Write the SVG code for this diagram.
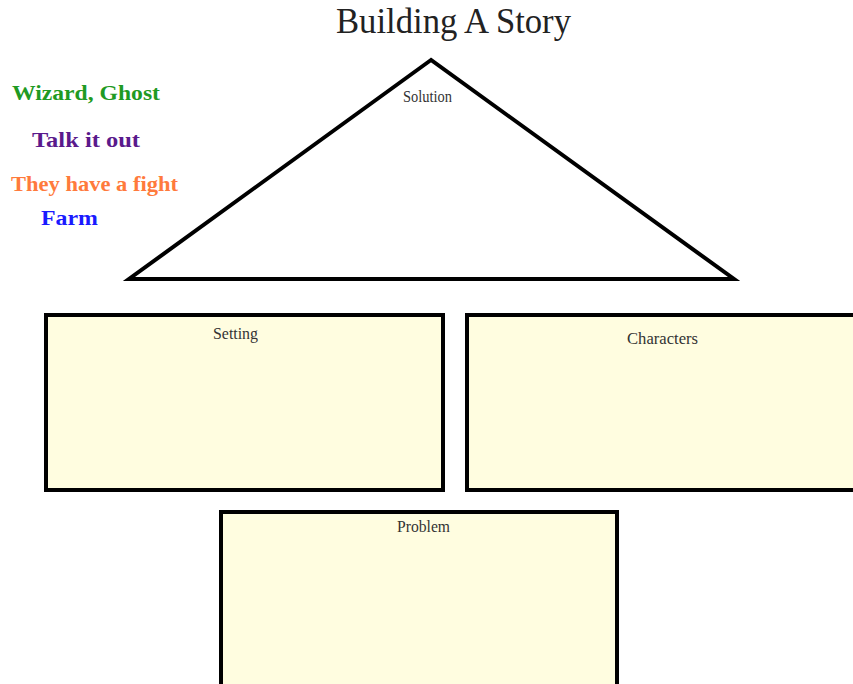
<svg xmlns="http://www.w3.org/2000/svg" width="853" height="684" viewBox="0 0 853 684">
<style>
.box{fill:#fffde0;stroke:#000;stroke-width:4}
.lbl{font-family:"Liberation Serif",serif;font-size:16px;fill:#333;text-anchor:middle}
.note{font-family:"Liberation Serif",serif;font-size:22px;font-weight:bold}
</style>
<rect width="853" height="684" fill="#fff"/>
<text x="453.5" y="33" font-family="Liberation Serif,serif" font-size="35" fill="#222" text-anchor="middle" textLength="235" lengthAdjust="spacingAndGlyphs">Building A Story</text>
<g id="notes">
<text class="note" x="12" y="100" fill="#1f9a23" textLength="148" lengthAdjust="spacingAndGlyphs">Wizard, Ghost</text>
<text class="note" x="32" y="147" fill="#5a1a8c" textLength="108" lengthAdjust="spacingAndGlyphs">Talk it out</text>
<text class="note" x="11" y="191" fill="#ff7a3c" textLength="167" lengthAdjust="spacingAndGlyphs">They have a fight</text>
<text class="note" x="41" y="225" fill="#1a1aff" textLength="57" lengthAdjust="spacingAndGlyphs">Farm</text>
</g>
<g id="solution">
<polygon points="431,60 129,279 734,279" fill="#fff" stroke="#000" stroke-width="4"/>
<text class="lbl" x="427.5" y="102" font-size="15" textLength="49" lengthAdjust="spacingAndGlyphs">Solution</text>
</g>
<g id="setting">
<rect class="box" x="46" y="315" width="397" height="175"/>
<text class="lbl" x="235.5" y="339" textLength="45" lengthAdjust="spacingAndGlyphs">Setting</text>
</g>
<g id="characters">
<rect class="box" x="467" y="315" width="390" height="175"/>
<text class="lbl" x="662.5" y="344" textLength="71" lengthAdjust="spacingAndGlyphs">Characters</text>
</g>
<g id="problem">
<rect class="box" x="221" y="512" width="396" height="180"/>
<text class="lbl" x="423.5" y="532" textLength="53" lengthAdjust="spacingAndGlyphs">Problem</text>
</g>
<g id="connectors"></g>
</svg>
